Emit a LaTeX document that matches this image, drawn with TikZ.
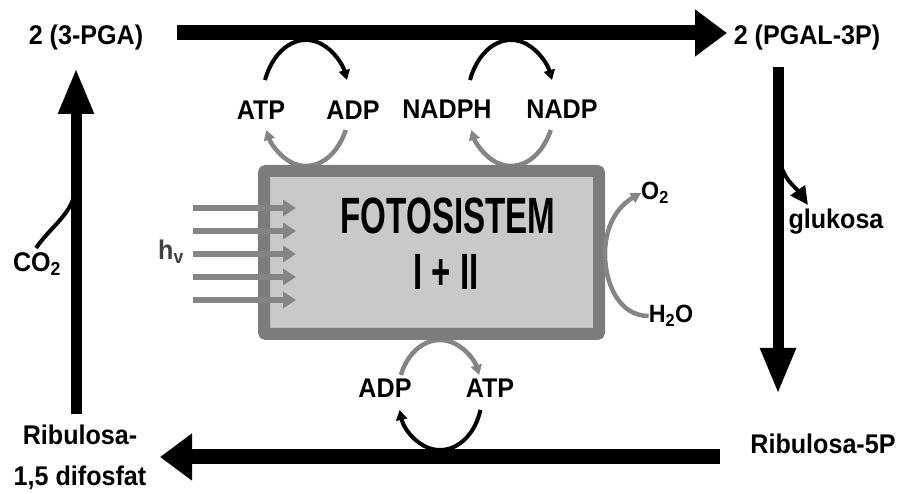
\documentclass[tikz,border=0pt]{standalone}
\usepackage{fontspec}
\setmainfont{Liberation Sans}
\usetikzlibrary{arrows.meta}
\definecolor{boxedge}{HTML}{7C7C7C}
\definecolor{boxfill}{HTML}{C9C9C9}
\definecolor{arcgray}{HTML}{858585}
\begin{document}
\begin{tikzpicture}[x=1pt,y=1pt,
  lbl/.style={inner sep=0pt, font=\fontsize{27}{27}\selectfont\bfseries, xscale=0.93},
  bigarrow/.style={line width=15pt, -{Triangle[length=32pt,width=45pt]}},
  vertarrow/.style={line width=11pt, -{Triangle[length=46pt,width=33pt]}},
  blackarc/.style={line width=4pt, -{Triangle[length=10pt,width=11pt]}},
  grayarc/.style={line width=4.5pt, draw=arcgray, -{Triangle[length=10pt,width=11pt]}},
  ray/.style={line width=6pt, draw=arcgray, -{Triangle[length=13pt,width=16pt]}},
  boxtext/.style={inner sep=0pt, font=\fontsize{51}{51}\selectfont\bfseries, xscale=0.65}]
\useasboundingbox (0,0) rectangle (900,494);

% labels of the cycle
\node[lbl] (pga) at (86,456) {2 (3-PGA)};
\node[lbl] (pgal) at (807,456) {2 (PGAL-3P)};
\node[lbl] (ru5p) at (823,50) {Ribulosa-5P};
\node[lbl, align=center, font=\fontsize{27}{41}\selectfont\bfseries] (rudp) at (80,36.5) {Ribulosa-\\1,5 difosfat};
\node[lbl] (co2) at (37,230) {CO\textsubscript{2}};
\node[lbl] (gluk) at (836,272) {glukosa};

% main cycle arrows
\coordinate (tS) at (177,461); \coordinate (tE) at (727,461);
\coordinate (rS) at (778,427); \coordinate (rE) at (778,100);
\coordinate (bS) at (720,37);  \coordinate (bE) at (160,37);
\coordinate (lS) at (76,80);   \coordinate (lE) at (76,426);
\draw[bigarrow] (tS) -- (tE);
\draw[vertarrow] (rS) -- (rE);
\draw[bigarrow] (bS) -- (bE);
\draw[vertarrow] (lS) -- (lE);

% CO2 entry and glucose branch
\coordinate (co2s) at (36,246); \coordinate (co2e) at (76,312);
\draw[line width=4pt] (co2s) to[out=55,in=-90] (co2e);
\coordinate (gS) at (779,336); \coordinate (gE) at (808,289);
\draw[line width=4pt, -{Triangle[length=18pt,width=17pt]}] (gS) to[out=-80,in=125] (gE);

% loop centres
\coordinate (c1) at (306,391);
\coordinate (c2) at (511,391);
\coordinate (c3) at (440,99);

% gray arcs (behind the box)
\draw[grayarc] (c1) ++(-25.4:44 and 63) arc[start angle=-25.4, end angle=-154.6, x radius=44, y radius=63];
\draw[grayarc] (c2) ++(-25.4:44 and 63) arc[start angle=-25.4, end angle=-154.6, x radius=44, y radius=63];
\draw[grayarc] (c3) ++(158.7:42 and 55) arc[start angle=158.7, end angle=21.3, x radius=42, y radius=55];

% photosystem box
\node[draw=boxedge, fill=boxfill, line width=12pt, minimum width=335pt, minimum height=163pt,
      rounded corners=2pt, inner sep=0pt] (ps) at (431.5,241.5) {};
\node[boxtext] (fs1) at (448,278) {FOTOSISTEM};
\node[boxtext] (fs2) at (446,222) {I + II};

% light rays
\node[lbl, text=black!75] (hv) at (171,242) {h\textsubscript{v}};
\foreach \yy in {286,263,240,217,194}
  \draw[ray] (193,\yy) -- (296,\yy);

% O2 / H2O
\node[lbl, font=\fontsize{25}{25}\selectfont\bfseries] (o2) at (655,301) {O\textsubscript{2}};
\node[lbl, font=\fontsize{25}{25}\selectfont\bfseries] (h2o) at (671,178) {H\textsubscript{2}O};
\coordinate (oh) at (605,240);
\draw[grayarc] (h2o.west) to[out=180,in=-90] (oh) to[out=90,in=210] (o2.west);

% cofactor labels
\node[lbl] (atp1) at (261,384) {ATP};
\node[lbl] (adp1) at (353,384) {ADP};
\node[lbl] (nadph) at (447,385) {NADPH};
\node[lbl] (nadp) at (562,385) {NADP};
\node[lbl] (adp2) at (385,106) {ADP};
\node[lbl] (atp2) at (490,106) {ATP};

% black arcs
\draw[blackarc] (c1) ++(158.6:44 and 63) arc[start angle=158.6, end angle=21.4, x radius=44, y radius=63];
\draw[blackarc] (c2) ++(158.6:44 and 63) arc[start angle=158.6, end angle=21.4, x radius=44, y radius=63];
\draw[blackarc] (c3) ++(-15.8:42 and 55) arc[start angle=-15.8, end angle=-164.2, x radius=42, y radius=55];
\end{tikzpicture}
\end{document}
